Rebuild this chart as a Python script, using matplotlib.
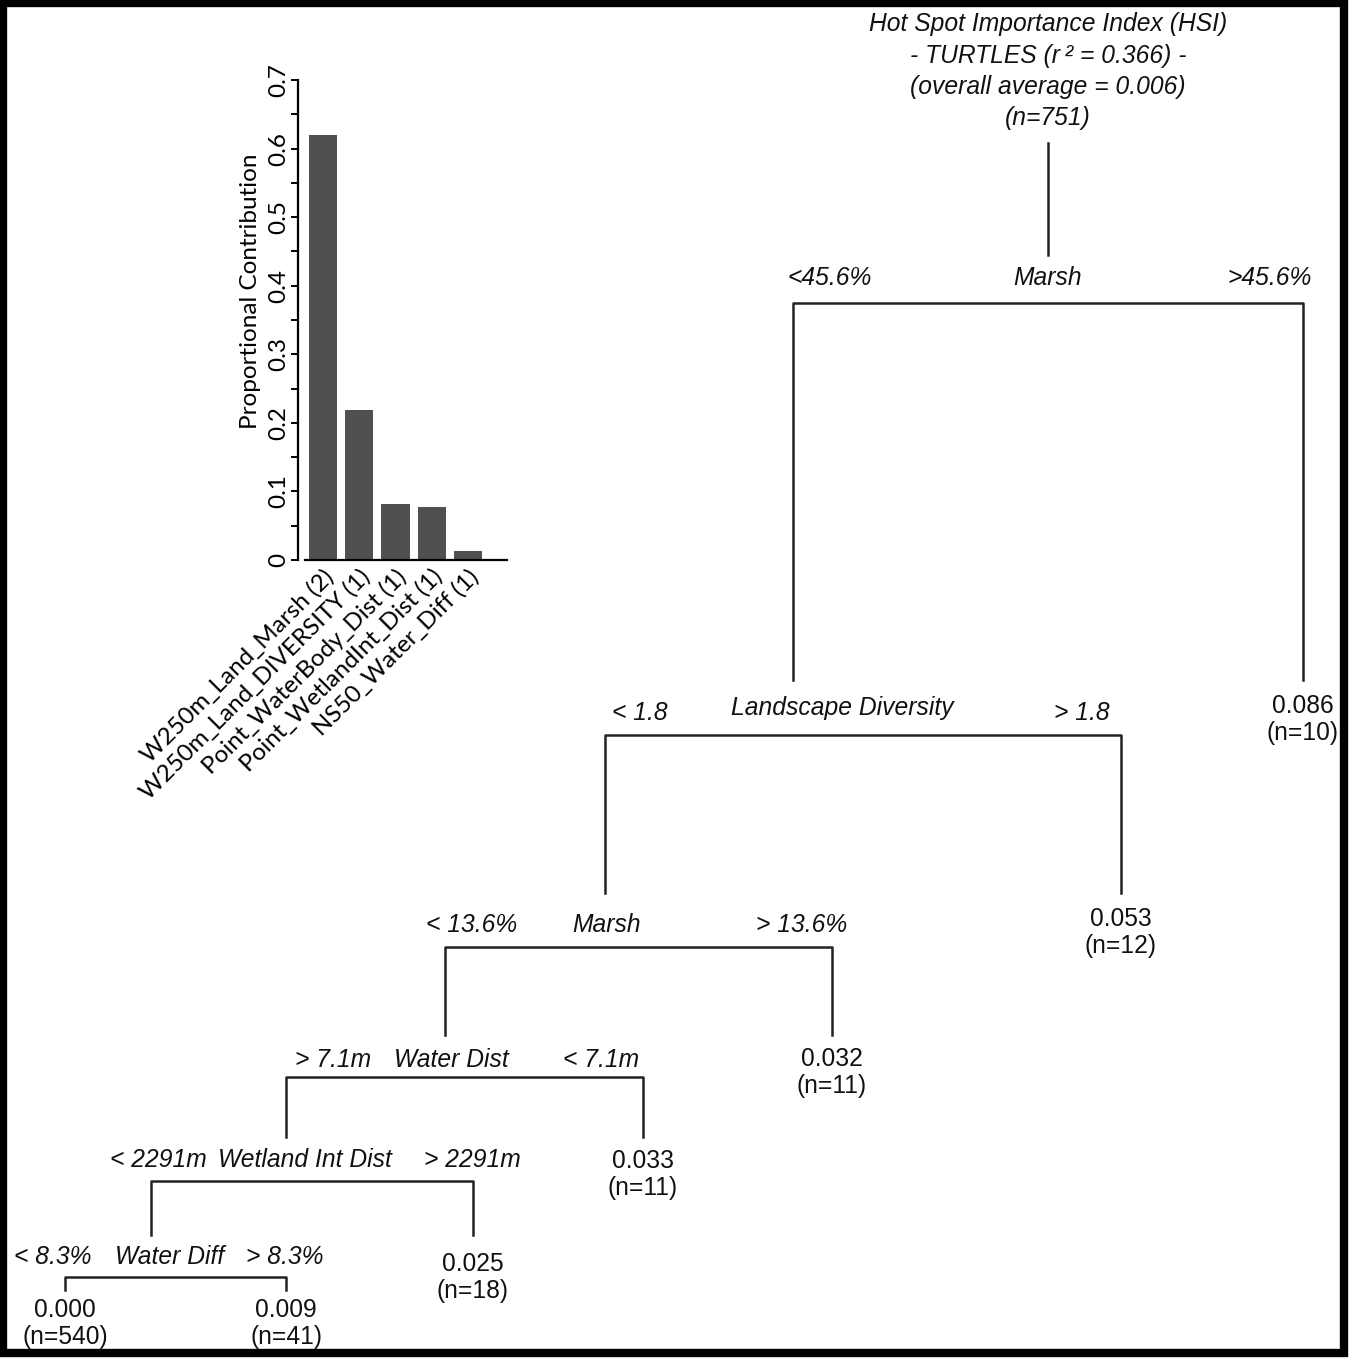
import matplotlib
matplotlib.use("Agg")
import matplotlib.pyplot as plt
from matplotlib.patches import Rectangle

# bar chart data
predictors = ["W250m_Land_Marsh (2)", "W250m_Land_DIVERSITY (1)", "Point_WaterBody_Dist (1)",
              "Point_WetlandInt_Dist (1)", "NS50_Water_Diff (1)"]
contribution = [0.62, 0.219, 0.082, 0.078, 0.013]

# regression tree data (each split: left child continues down, right child is a leaf)
title_lines = ["Hot Spot Importance Index (HSI)", "- TURTLES (r\u2009\u00b2 = 0.366) -",
               "(overall average = 0.006)", "(n=751)"]
split_vars = ["Marsh", "Landscape Diversity", "Marsh", "Water Dist", "Wetland Int Dist", "Water Diff"]
left_rules = ["<45.6%", "< 1.8", "< 13.6%", "> 7.1m", "< 2291m", "< 8.3%"]
right_rules = [">45.6%", "> 1.8", "> 13.6%", "< 7.1m", "> 2291m", "> 8.3%"]
leaf_vals = [0.086, 0.053, 0.032, 0.033, 0.025, 0.000, 0.009]
leaf_n = [10, 12, 11, 11, 18, 540, 41]

# layout of the tree in pixels
bx_left = [793, 605, 445, 286, 151, 65]
bx_right = [1303, 1121, 832, 643, 473, 286]
br_y = [303, 735, 947, 1077, 1181, 1277]
lab_y = [278, 708, 925, 1060, 1160, 1257]
var_x = [1048, 842, 607, 451, 305, 170]
lrule_x = [830, 640, 472, 333, 158, 53]
rrule_x = [1270, 1082, 802, 601, 472, 285]
drop_y = [680, 893, 1035, 1137, 1235, 1290]
leaf_y = [706, 919, 1059, 1161, 1264]

W, H = 1354, 1358
fig = plt.figure(figsize=(W / 100, H / 100), dpi=100)

tree = fig.add_axes([0, 0, 1, 1])
tree.set_xlim(0, W)
tree.set_ylim(H, 0)
tree.axis("off")

tfont = dict(family="Liberation Sans", fontsize=17.7, color="#111111")
lc = "#222222"

# title
for i, line in enumerate(title_lines):
    tree.text(1048, 24 + i * 31.5, line, ha="center", va="center", style="italic", **tfont)
tree.plot([1048, 1048], [143, 255], color=lc, lw=1.8)

for i in range(len(split_vars)):
    tree.text(var_x[i], lab_y[i], split_vars[i], ha="center", va="center", style="italic", **tfont)
    dy = 5 if i == 1 else 0
    tree.text(lrule_x[i], lab_y[i] + dy, left_rules[i], ha="center", va="center",
              style="italic", **tfont)
    tree.text(rrule_x[i], lab_y[i] + dy, right_rules[i], ha="center", va="center",
              style="italic", **tfont)
    tree.plot([bx_left[i], bx_left[i], bx_right[i], bx_right[i]],
              [drop_y[i], br_y[i], br_y[i], drop_y[i]], color=lc, lw=1.8)

# leaves: right child of every split, plus the last left child
leaf_x = bx_right[:5] + [bx_left[5], bx_right[5]]
leaf_ys = leaf_y + [1310, 1310]
for x, y, v, n in zip(leaf_x, leaf_ys, leaf_vals, leaf_n):
    tree.text(x, y, f"{v:.3f}", ha="center", va="center", **tfont)
    tree.text(x, y + 27, f"(n={n})", ha="center", va="center", **tfont)

# frame
tree.add_patch(Rectangle((3, 3), W - 13, H - 8, fill=False, ec="black", lw=6))

# bar chart inset
bfont = dict(family="Lato", fontsize=17.5)
ax = fig.add_axes([305 / W, 1 - 560 / H, 202 / W, 480 / H])
ax.bar(range(len(contribution)), contribution, width=0.78, color="#505050")
ax.set_xlim(-0.5, 5.08)
ax.set_ylim(0, 0.7)
ax.spines["top"].set_visible(False)
ax.spines["right"].set_visible(False)
ax.spines["left"].set_position(("outward", 5))
ax.spines["left"].set_linewidth(1.6)
ax.spines["bottom"].set_linewidth(1.6)
ax.set_yticks([i / 10 for i in range(8)])
ax.set_yticklabels(["0", "0.1", "0.2", "0.3", "0.4", "0.5", "0.6", "0.7"],
                   rotation=90, va="center", **bfont)
ax.set_yticks([i / 20 for i in range(1, 14, 2)], minor=True)
ax.tick_params(axis="y", which="both", length=5, width=1.4, direction="out", pad=1)
ax.set_ylabel("Proportional Contribution", **bfont)
ax.yaxis.set_label_coords(-0.22, 0.56)
ax.set_xticks(range(len(predictors)))
ax.set_xticklabels(predictors, rotation=45, ha="right", rotation_mode="anchor", **bfont)
ax.tick_params(axis="x", length=0, pad=4)

fig.savefig("out.png", dpi=100)
